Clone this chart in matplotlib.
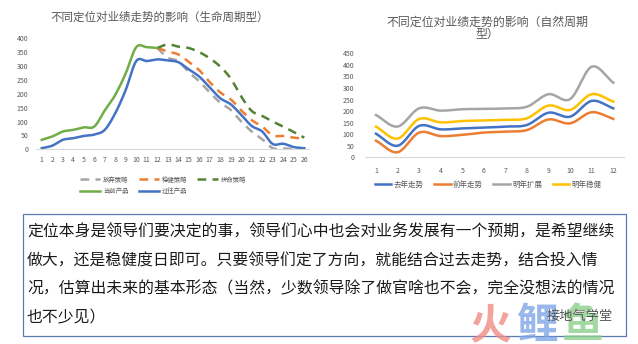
import numpy as np
import matplotlib
matplotlib.use("Agg")
import matplotlib.pyplot as plt
from matplotlib.patches import Rectangle
from matplotlib.lines import Line2D

plt.rcParams['font.family'] = ['Noto Sans CJK SC', 'DejaVu Sans']

# ---- 左图：生命周期型 ----
life_x_now = list(range(1, 13))
life_now = [34, 46, 64, 70, 79, 82, 140, 196, 274, 368, 368, 365]
life_x_past = list(range(1, 27))
life_past = [4, 13, 34, 40, 48, 53, 70, 130, 214, 318, 318, 324, 320, 314, 288,
             262, 223, 184, 162, 124, 84, 64, 19, 20, 8, 4]
life_x_plan = list(range(12, 27))
plan_giveup = [365, 330, 318, 278, 245, 205, 168, 142, 100, 64, 36, 4, 3, 1, 0]
plan_steady = [365, 352, 342, 315, 285, 242, 205, 180, 140, 105, 82, 50, 48, 42, 38]
plan_hard = [365, 378, 370, 365, 350, 328, 298, 255, 190, 138, 120, 100, 82, 62, 42]

# ---- 右图：自然周期型 ----
month_x = list(range(1, 13))
last_year = [102, 50, 136, 121, 125, 128, 133, 140, 193, 176, 244, 212]
year_before = [72, 22, 107, 92, 97, 107, 111, 118, 164, 147, 195, 166]
next_expand = [183, 133, 212, 202, 208, 209, 212, 219, 273, 252, 392, 323]
next_steady = [133, 81, 166, 151, 157, 159, 162, 169, 224, 205, 273, 241]

text_lines = [
    "定位本身是领导们要决定的事，领导们心中也会对业务发展有一个预期，是希望继续",
    "做大，还是稳健度日即可。只要领导们定了方向，就能结合过去走势，结合投入情",
    "况，估算出未来的基本形态（当然，少数领导除了做官啥也不会，完全没想法的情况",
    "也不少见）",
]

BLUE, ORANGE, GRAY, YELLOW = '#4472C4', '#ED7D31', '#A5A5A5', '#FFC000'
GREEN, DKGREEN = '#70AD47', '#548235'
TXT = '#595959'


def smooth(xs, ys, n=20):
    # Excel 风格的平滑线（Catmull-Rom）
    xs = np.asarray(xs, float)
    ys = np.asarray(ys, float)
    px = np.r_[2 * xs[0] - xs[1], xs, 2 * xs[-1] - xs[-2]]
    py = np.r_[2 * ys[0] - ys[1], ys, 2 * ys[-1] - ys[-2]]
    t = np.linspace(0, 1, n, endpoint=False)
    ox, oy = [], []
    for i in range(1, len(px) - 2):
        for p, out in ((px, ox), (py, oy)):
            p0, p1, p2, p3 = p[i - 1], p[i], p[i + 1], p[i + 2]
            out.extend(0.5 * (2 * p1 + (-p0 + p2) * t + (2 * p0 - 5 * p1 + 4 * p2 - p3) * t ** 2
                              + (-p0 + 3 * p1 - 3 * p2 + p3) * t ** 3))
    ox.append(xs[-1])
    oy.append(ys[-1])
    return ox, oy


def style_axes(ax, xmax, ymax):
    for s in ['top', 'right', 'left']:
        ax.spines[s].set_visible(False)
    ax.spines['bottom'].set_color('#D9D9D9')
    ax.spines['bottom'].set_linewidth(0.8)
    ax.set_xlim(0.5, xmax + 0.5)
    ax.set_ylim(0, ymax)
    ax.set_xticks(range(1, xmax + 1))
    ax.set_yticks(range(0, ymax + 1, 50))
    ax.tick_params(length=0, labelsize=5, labelcolor=TXT)
    ax.tick_params(axis='y', pad=6)
    ax.tick_params(axis='x', pad=5)


fig = plt.figure(figsize=(6.38, 3.44), dpi=100)

# 左图
ax1 = fig.add_axes([0.0572, 0.566, 0.4279, 0.3227])
style_axes(ax1, 26, 400)
lw = 1.8
dash = (0, (3.5, 2.5))
ax1.plot(*smooth(life_x_plan, plan_giveup), color=GRAY, lw=lw, ls=dash)
ax1.plot(*smooth(life_x_plan, plan_steady), color=ORANGE, lw=lw, ls=dash)
ax1.plot(*smooth(life_x_plan, plan_hard), color=DKGREEN, lw=lw, ls=dash)
ax1.plot(*smooth(life_x_now, life_now), color=GREEN, lw=lw)
ax1.plot(*smooth(life_x_past, life_past), color=BLUE, lw=lw)
fig.text(160 / 638, 1 - 17 / 344, "不同定位对业绩走势的影响（生命周期型）",
         ha='center', va='center', fontsize=8.3, color=TXT)

h = [Line2D([], [], color=GRAY, lw=lw, ls=dash),
     Line2D([], [], color=GREEN, lw=lw),
     Line2D([], [], color=ORANGE, lw=lw, ls=dash),
     Line2D([], [], color=BLUE, lw=lw),
     Line2D([], [], color=DKGREEN, lw=lw, ls=dash)]
lab = ["放弃策略", "当前产品", "稳健策略", "过往产品", "拼命策略"]
fig.legend(h, lab, loc='center', bbox_to_anchor=(163 / 638, 1 - 185.5 / 344), ncol=3,
           frameon=False, fontsize=4.6, labelcolor=TXT, handlelength=3.2,
           handletextpad=0.4, columnspacing=1.6, labelspacing=0.6)

# 右图
ax2 = fig.add_axes([365.2 / 638, 1 - 157.3 / 344, (624.1 - 365.2) / 638, 104 / 344])
style_axes(ax2, 12, 450)
ax2.tick_params(axis='y', pad=8)
ax2.tick_params(axis='x', pad=7)
ax2.plot(*smooth(month_x, last_year), color=BLUE, lw=lw, label="去年走势")
ax2.plot(*smooth(month_x, year_before), color=ORANGE, lw=lw, label="前年走势")
ax2.plot(*smooth(month_x, next_expand), color=GRAY, lw=lw, label="明年扩展")
ax2.plot(*smooth(month_x, next_steady), color=YELLOW, lw=lw, label="明年稳健")
fig.text(487 / 638, 1 - 22 / 344, "不同定位对业绩走势的影响（自然周期",
         ha='center', va='center', fontsize=8.6, color=TXT)
fig.text(487 / 638, 1 - 34 / 344, "型）",
         ha='center', va='center', fontsize=8.6, color=TXT)
fig.legend(*ax2.get_legend_handles_labels(), loc='center',
           bbox_to_anchor=(488 / 638, 1 - 185 / 344), ncol=4, frameon=False,
           fontsize=5.4, labelcolor=TXT, handlelength=2.2, handletextpad=0.3,
           columnspacing=1.4)

# 文字框
fig.patches.append(Rectangle((23 / 638, 1 - 336 / 344), (626 - 23) / 638, 122 / 344,
                             transform=fig.transFigure, fill=False,
                             edgecolor='#5B7BB0', lw=0.9))
for i, line in enumerate(text_lines):
    fig.text(27 / 638, 1 - (232 + 28.7 * i) / 344, line, ha='left', va='center',
             fontsize=11.4, color='#1A1A1A')

# 水印
for ch, x, c in [("火", 490, '#F08C84'), ("鲤", 537, '#7FA6E8'), ("鱼", 582, '#8BCF8B')]:
    fig.text(x / 638, 1 - 326 / 344, ch, ha='center', va='center', fontsize=30,
             fontweight='black', color=c, alpha=0.8)
fig.text(580 / 638, 1 - 316 / 344, "接地气学堂", ha='center', va='center',
         fontsize=9.5, color='#555555')

fig.savefig("out.png", dpi=100)
